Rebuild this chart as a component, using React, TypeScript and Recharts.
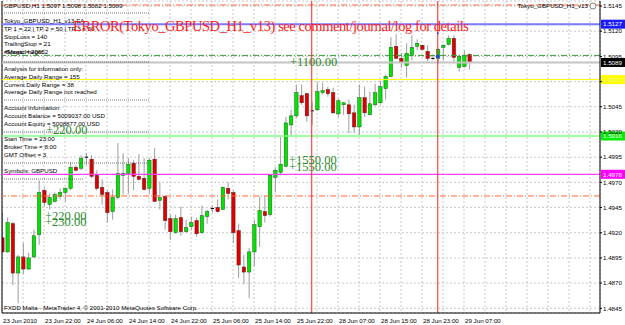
import React from 'react';
import {
  ComposedChart, Bar, XAxis, YAxis, CartesianGrid, ReferenceLine, ReferenceDot,
} from 'recharts';

// GBPUSD H1 bars, 23 Jun 2010 14:00 onwards
const opens = [
  1.4915, 1.4901, 1.4929, 1.4880, 1.4896, 1.4884, 1.4896, 1.4918, 1.4962, 1.4948,
  1.4951, 1.4956, 1.4960, 1.4964, 1.4985, 1.4984, 1.4994, 1.4993, 1.4977, 1.4965,
  1.4960, 1.4941, 1.4955, 1.4977, 1.4979, 1.4989, 1.4976, 1.4974, 1.4964, 1.4993,
  1.4952, 1.4956, 1.4934, 1.4920, 1.4935, 1.4921, 1.4926, 1.4932, 1.4920, 1.4936,
  1.4943, 1.4945, 1.4943, 1.4964, 1.4960, 1.4922, 1.4886, 1.4881, 1.4901, 1.4926,
  1.4941, 1.4938, 1.4975, 1.4980, 1.4986, 1.5027, 1.5036, 1.5056, 1.5058, 1.5040,
  1.5042, 1.5059, 1.5062, 1.5059, 1.5038, 1.5047, 1.5047, 1.5039, 1.5025, 1.5054,
  1.5037, 1.5047, 1.5049, 1.5063, 1.5075, 1.5105, 1.5093, 1.5086, 1.5096, 1.5105,
  1.5106, 1.5100, 1.5093, 1.5093, 1.5104, 1.5107, 1.5113, 1.5084, 1.5085, 1.5097,
];
const highs = [
  1.4940, 1.4935, 1.4931, 1.4898, 1.4910, 1.4900, 1.4923, 1.4972, 1.4965, 1.4959,
  1.4960, 1.4964, 1.4965, 1.4990, 1.4987, 1.4997, 1.4999, 1.4997, 1.4982, 1.4973,
  1.4962, 1.4963, 1.5009, 1.4999, 1.4994, 1.4992, 1.4998, 1.4994, 1.4994, 1.5004,
  1.4970, 1.4957, 1.4938, 1.4938, 1.4946, 1.4933, 1.4936, 1.4935, 1.4947, 1.4943,
  1.4947, 1.4953, 1.4966, 1.4970, 1.4962, 1.4929, 1.4898, 1.4905, 1.4933, 1.4956,
  1.4956, 1.4977, 1.4985, 1.5015, 1.5035, 1.5042, 1.5067, 1.5067, 1.5059, 1.5050,
  1.5069, 1.5069, 1.5065, 1.5064, 1.5053, 1.5050, 1.5052, 1.5047, 1.5067, 1.5065,
  1.5060, 1.5068, 1.5071, 1.5077, 1.5114, 1.5117, 1.5098, 1.5108, 1.5116, 1.5112,
  1.5107, 1.5106, 1.5097, 1.5103, 1.5107, 1.5116, 1.5116, 1.5097, 1.5101, 1.5098,
];
const lows = [
  1.4900, 1.4900, 1.4868, 1.4850, 1.4879, 1.4883, 1.4895, 1.4908, 1.4946, 1.4943,
  1.4950, 1.4953, 1.4951, 1.4962, 1.4981, 1.4982, 1.4987, 1.4974, 1.4962, 1.4948,
  1.4930, 1.4933, 1.4953, 1.4958, 1.4959, 1.4962, 1.4972, 1.4962, 1.4959, 1.4951,
  1.4943, 1.4923, 1.4913, 1.4919, 1.4917, 1.4920, 1.4923, 1.4916, 1.4919, 1.4929,
  1.4940, 1.4940, 1.4943, 1.4953, 1.4910, 1.4875, 1.4869, 1.4855, 1.4887, 1.4906,
  1.4930, 1.4936, 1.4960, 1.4977, 1.4985, 1.5017, 1.5034, 1.5047, 1.5030, 1.5027,
  1.5041, 1.5057, 1.5055, 1.5038, 1.5035, 1.5037, 1.5019, 1.5019, 1.5017, 1.5035,
  1.5037, 1.5046, 1.5047, 1.5052, 1.5074, 1.5093, 1.5084, 1.5074, 1.5091, 1.5101,
  1.5101, 1.5090, 1.5091, 1.5088, 1.5091, 1.5106, 1.5088, 1.5080, 1.5084, 1.5082,
];
const closes = [
  1.4901, 1.4930, 1.4880, 1.4896, 1.4884, 1.4895, 1.4917, 1.4960, 1.4950, 1.4955,
  1.4958, 1.4960, 1.4964, 1.4985, 1.4982, 1.4994, 1.4995, 1.4976, 1.4964, 1.4958,
  1.4940, 1.4955, 1.4979, 1.4979, 1.4988, 1.4976, 1.4973, 1.4963, 1.4992, 1.4951,
  1.4955, 1.4932, 1.4921, 1.4934, 1.4921, 1.4925, 1.4930, 1.4919, 1.4937, 1.4941,
  1.4944, 1.4941, 1.4965, 1.4959, 1.4920, 1.4888, 1.4881, 1.4901, 1.4928, 1.4942,
  1.4937, 1.4977, 1.4982, 1.4988, 1.5029, 1.5036, 1.5059, 1.5049, 1.5036, 1.5041,
  1.5060, 1.5061, 1.5058, 1.5039, 1.5051, 1.5049, 1.5038, 1.5025, 1.5054, 1.5039,
  1.5048, 1.5059, 1.5065, 1.5075, 1.5104, 1.5093, 1.5089, 1.5098, 1.5104, 1.5108,
  1.5102, 1.5093, 1.5092, 1.5102, 1.5106, 1.5113, 1.5094, 1.5095, 1.5096, 1.5089,
];

const timeLabels = [
  '23 Jun 2010', '23 Jun 22:00', '24 Jun 06:00', '24 Jun 14:00', '24 Jun 22:00', '25 Jun 06:00',
  '25 Jun 14:00', '25 Jun 22:00', '28 Jun 07:00', '28 Jun 15:00', '28 Jun 23:00', '29 Jun 07:00',
];
const priceTicks = [
  1.4845, 1.4870, 1.4895, 1.4920, 1.4945, 1.4970, 1.4995, 1.5020, 1.5045, 1.5070, 1.5095, 1.5120, 1.5145,
];
const gridBars = Array.from({ length: 29 }, (_, k) => k * 4);

// horizontal objects on the chart
const stopLevels = [1.5146, 1.49565];
const entryLevel = 1.5096;
const tpLevel = 1.5127;
const bidLevel = 1.5089;
const dailyLevel = 1.5072;
const buyLevel = 1.5016;
const sellLevel = 1.4978;
const markerBars = [59, 83];

const data = opens.map((o, i) => ({
  i, open: o, high: highs[i], low: lows[i], close: closes[i], range: [lows[i], highs[i]],
}));

const SANS = 'Liberation Sans, Arial, sans-serif';
const SERIF = 'Liberation Serif, Times New Roman, serif';

function Candle(props: any) {
  const { x, y, width, height, payload } = props;
  const { open, close, high, low } = payload;
  const top = Math.min(y, y + height);
  const h = Math.abs(height);
  const py = (p: number) => top + ((high - p) / (high - low)) * h;
  const cx = x + width / 2;
  const up = close >= open;
  const b1 = py(Math.max(open, close));
  const b2 = py(Math.min(open, close));
  return (
    <g>
      <line x1={cx} x2={cx} y1={top} y2={top + h} stroke="#9c9c9c" strokeWidth={1} />
      {b2 - b1 < 1.2 ? (
        <line x1={cx - 1.7} x2={cx + 1.7} y1={b1} y2={b1} stroke="#000" strokeWidth={1} />
      ) : (
        <rect
          x={cx - 1.7} y={b1} width={3.4} height={b2 - b1}
          fill={up ? '#00e400' : '#dc0000'}
          stroke={up ? '#1b5e1b' : '#5e1b1b'} strokeWidth={0.5}
        />
      )}
    </g>
  );
}

function TimeTick(props: any) {
  const { x, y, payload } = props;
  const v = payload.value;
  if (v % 8 !== 0 || v / 8 >= timeLabels.length) return null;
  return (
    <text x={x + 1} y={y + 8} fontSize={6.2} fontFamily={SANS} fill="#000">
      {timeLabels[v / 8]}
    </text>
  );
}

const tag = (bg: string, fg: string, price: number) => (props: any) => {
  const vb = props.viewBox;
  const x = vb.x + vb.width + 1;
  return (
    <g>
      <rect x={x} y={vb.y - 4.5} width={24} height={9} fill={bg} />
      <text x={x + 2} y={vb.y + 2.3} fontSize={6.2} fontFamily={SANS} fill={fg}>
        {price.toFixed(4)}
      </text>
    </g>
  );
};

function Sep({ y, w = 145 }: { y: number; w?: number }) {
  return <line x1={4} x2={4 + w} y1={y} y2={y} stroke="#555" strokeDasharray="1 1" strokeWidth={0.8} />;
}

function Txt({ x = 4, y, children }: { x?: number; y: number; children: React.ReactNode }) {
  return (
    <text x={x} y={y + 2.2} fontSize={6.2} fontFamily={SANS} fill="#000">{children}</text>
  );
}

export default function App() {
  return (
    <div style={{ position: 'absolute', left: 0, top: 0, width: 625, height: 325, background: '#fff' }}>
      <ComposedChart
        width={625}
        height={325}
        data={data}
        margin={{ top: 1, right: 1, left: 2, bottom: 0 }}
      >
        <CartesianGrid stroke="#c8c8c8" strokeDasharray="2 2" />
        <XAxis
          type="number"
          dataKey="i"
          domain={[0, 113.9]}
          ticks={gridBars}
          interval={0}
          allowDataOverflow
          height={12}
          tickLine={false}
          tickSize={0}
          tick={<TimeTick />}
          axisLine={{ stroke: '#000' }}
        />
        <YAxis
          orientation="right"
          type="number"
          domain={[1.484035, 1.515]}
          ticks={priceTicks}
          interval={0}
          allowDataOverflow
          width={24}
          tickSize={2}
          tickMargin={1}
          // the 1.5070 label sits under the yellow price tag
          tickFormatter={(v: number) => (Math.abs(v - dailyLevel) < 0.0005 ? '' : v.toFixed(4))}
          tick={{ fontSize: 6.2, fill: '#000', fontFamily: SANS }}
          axisLine={{ stroke: '#000' }}
          tickLine={{ stroke: '#000' }}
        />
        <ReferenceLine x={0} stroke="#000" />
        {stopLevels.map((p) => (
          <ReferenceLine key={p} y={p} stroke="#ff6633" strokeDasharray="6 2 1 2" />
        ))}
        <ReferenceLine y={entryLevel} stroke="#3a9a3a" strokeDasharray="6 2 1 2" />
        <ReferenceLine y={bidLevel} stroke="#c4c4c4" strokeWidth={2} label={tag('#000', '#fff', bidLevel)} />
        <ReferenceLine y={tpLevel} stroke="#7a7aff" strokeWidth={2} label={tag('#1a1aff', '#fff', tpLevel)} />
        <ReferenceLine y={dailyLevel} stroke="#ffff00" label={tag('#ffff00', '#f0f0a0', dailyLevel)} />
        <ReferenceLine y={buyLevel} stroke="#80ff80" strokeWidth={1.5} label={tag('#00ee00', '#fff', buyLevel)} />
        <ReferenceLine y={sellLevel} stroke="#ff40ff" strokeWidth={1.2} label={tag('#ff00ff', '#fff', sellLevel)} />
        {markerBars.map((b) => (
          <ReferenceLine key={b} x={b} stroke="#ff2020" />
        ))}
        <Bar
          dataKey="range"
          barSize={4}
          isAnimationActive={false}
          shape={<Candle />}
        />
        <ReferenceDot x={83} y={1.5095} r={1.8} fill="#2040ff" stroke="none" />
        <ReferenceDot x={83} y={1.5118} r={1} fill="#2040ff" stroke="none" />
      </ComposedChart>
      <svg
        width={625}
        height={325}
        style={{ position: 'absolute', left: 0, top: 0, pointerEvents: 'none' }}
      >
        <Txt y={6}>GBPUSD,H1  1.5097 1.5098 1.5082 1.5089</Txt>
        <Sep y={13} />
        <Txt y={21}>Tokyo_GBPUSD_H1_v13 EA</Txt>
        <Txt y={29}>TP 1 = 22 | TP 2 = 50 | TP 3 = 50</Txt>
        <Txt y={37}>StopLoss = 140</Txt>
        <Txt y={44}>TrailingStop = 21</Txt>
        <Txt y={52}>#Magic = 20652</Txt>
        <Txt x={6} y={52}>Spread begin</Txt>
        <Sep y={62} />
        <Txt y={69}>Analysis for information only:</Txt>
        <Txt y={77}>Average Daily Range  = 155</Txt>
        <Txt y={85}>Current Daily Range  = 38</Txt>
        <Txt y={92}>Average Daily Range not reached</Txt>
        <Sep y={100} />
        <Txt y={108}>Account Information:</Txt>
        <Txt y={116}>Account Balance = 5009037.00 USD</Txt>
        <Txt y={124}>Account Equity  = 5008877.00 USD</Txt>
        <Sep y={132} />
        <Txt y={139}>Start Time = 23:00</Txt>
        <Txt y={147}>Broker Time = 8:00</Txt>
        <Txt y={155}>GMT Offset = 3</Txt>
        <Sep y={163} />
        <Txt y={171}>Symbols: GBPUSD</Txt>
        <Sep y={179} w={79} />
        <Txt y={308}>FXDD Malta - MetaTrader 4, © 2001-2010 MetaQuotes Software Corp.</Txt>

        <text x={588} y={8.2} fontSize={6.2} fontFamily={SANS} fill="#000" textAnchor="end">
          Tokyo_GBPUSD_H1_v13
        </text>
        <circle cx={593} cy={6} r={3} fill="#fff" stroke="#666" strokeWidth={0.8} />

        <text x={73} y={31} fontSize={14.5} fontFamily={SERIF} fill="#ff1a1a" textLength={396}>
          ERROR(Tokyo_GBPUSD_H1_v13) see comment/journal/log for details
        </text>

        <g fontFamily={SERIF} fontSize={12.5} fill="#2e8b2e">
          <text x={290} y={66}>+1100.00</text>
          <text x={46} y={134}>+220.00</text>
          <text x={289} y={164}>+1550.00</text>
          <text x={289} y={171}>+1550.00</text>
          <text x={45} y={220}>+220.00</text>
          <text x={45} y={226}>+230.00</text>
        </g>
      </svg>
    </div>
  );
}
